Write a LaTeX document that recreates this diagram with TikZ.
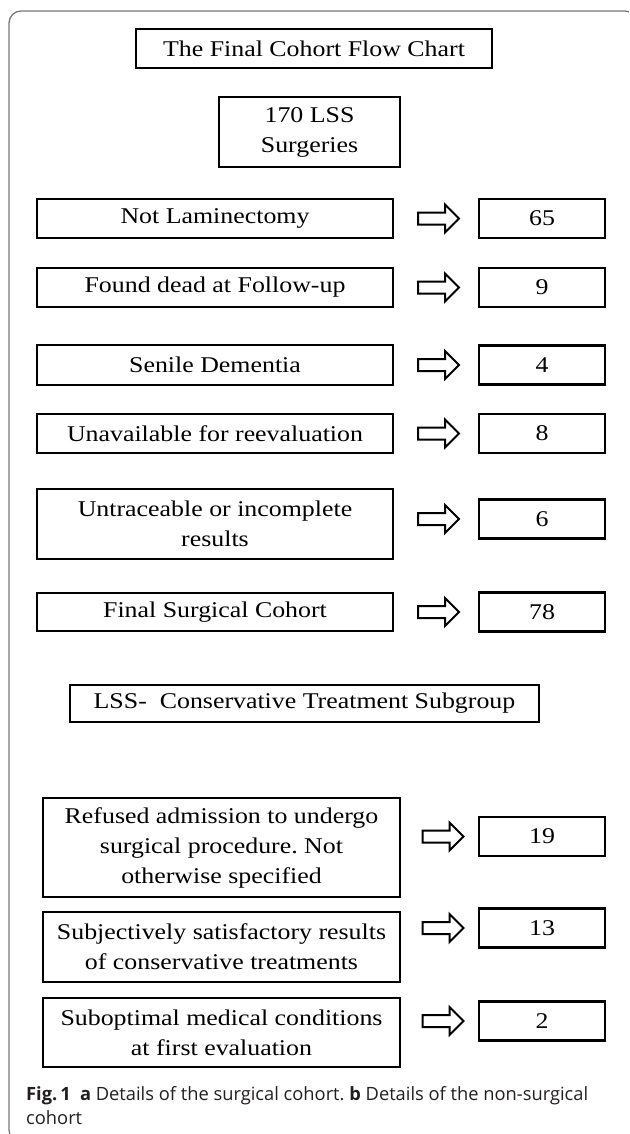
\documentclass[tikz,border=0pt]{standalone}
\usepackage{fontspec}
\setmainfont{Liberation Serif}[FakeStretch=1.15]
\newfontfamily\capfont{Open Sans}
\usetikzlibrary{shapes.arrows}
\definecolor{framecol}{RGB}{120,120,120}
\definecolor{captext}{RGB}{35,31,32}
\frenchspacing
\begin{document}
\begin{tikzpicture}[x=1pt,y=-1pt,
  box/.style={draw, line width=2.4pt, align=center, inner sep=0pt,
    font=\fontsize{22.5}{30}\selectfont},
  mainbox/.style={box, minimum width=356pt},
  numbox/.style={box, minimum width=126pt, minimum height=39pt},
  blockarrow/.style={single arrow, draw, line width=2pt, inner sep=5pt,
    minimum height=41pt, single arrow head extend=8pt},
]
\useasboundingbox (0,0) rectangle (629,1134);
\fill[white] (0,0) rectangle (629,1134);
\begin{scope}
  \clip (0,0) rectangle (629,1134);
  \draw[framecol, line width=1.3pt, rounded corners=12pt] (9,11) rectangle (637,1142);
\end{scope}

% section a
\node[box, minimum width=356pt, minimum height=39pt] (title) at (314,48.5) {The Final Cohort Flow Chart};
\node[box, minimum width=181pt, minimum height=70pt] (lss) at (309.5,132) {170 LSS\\Surgeries};

\node[mainbox, minimum height=39pt] (r1) at (215,218.5) {Not Laminectomy};
\node[blockarrow] (a1) at (435.5,218.5) {};
\node[numbox] (n1) at (542,218.5) {65};

\node[mainbox, minimum height=39pt] (r2) at (215,287.5) {Found dead at Follow-up};
\node[blockarrow] (a2) at (435.5,287.5) {};
\node[numbox] (n2) at (542,287.5) {9};

\node[mainbox, minimum height=40pt] (r3) at (215,365) {Senile Dementia};
\node[blockarrow] (a3) at (435.5,365) {};
\node[numbox] (n3) at (542,365) {4};

\node[mainbox, minimum height=39pt] (r4) at (215,433.5) {Unavailable for reevaluation};
\node[blockarrow] (a4) at (435.5,433.5) {};
\node[numbox] (n4) at (542,433.5) {8};

\node[mainbox, minimum height=70pt] (r5) at (215,524) {Untraceable or incomplete\\results};
\node[blockarrow] (a5) at (435.5,519) {};
\node[numbox] (n5) at (542,519) {6};

\node[mainbox, minimum height=38pt] (r6) at (215,612) {Final Surgical Cohort};
\node[blockarrow] (a6) at (435.5,612) {};
\node[numbox] (n6) at (542,612) {78};

% section b
\node[box, minimum width=469pt, minimum height=37pt] (cons) at (304.5,703.5) {LSS-\ \ Conservative Treatment Subgroup};

\node[box, minimum width=357pt, minimum height=99pt] (b1) at (221.5,847.5) {Refused admission to undergo\\surgical procedure. Not\\otherwise specified};
\node[blockarrow] (c1) at (440,836.5) {};
\node[numbox] (m1) at (542,836.5) {19};

\node[box, minimum width=357pt, minimum height=70pt] (b2) at (221.5,947) {Subjectively satisfactory results\\of conservative treatments};
\node[blockarrow] (c2) at (440,928) {};
\node[numbox] (m2) at (542,928) {13};

\node[box, minimum width=357pt, minimum height=69pt] (b3) at (221.5,1032.5) {Suboptimal medical conditions\\at first evaluation};
\node[blockarrow] (c3) at (440,1021) {};
\node[numbox] (m3) at (542,1021) {2};

% caption
\node[anchor=north west, align=left, inner sep=0pt, text=captext,
  font=\capfont\fontsize{18.3}{24.5}\selectfont] (cap) at (26,1086)
  {\textbf{Fig.\,1}\hspace{0.5em}\textbf{a} Details of the surgical cohort. \textbf{b} Details of the non-surgical\\cohort};
\end{tikzpicture}
\end{document}
